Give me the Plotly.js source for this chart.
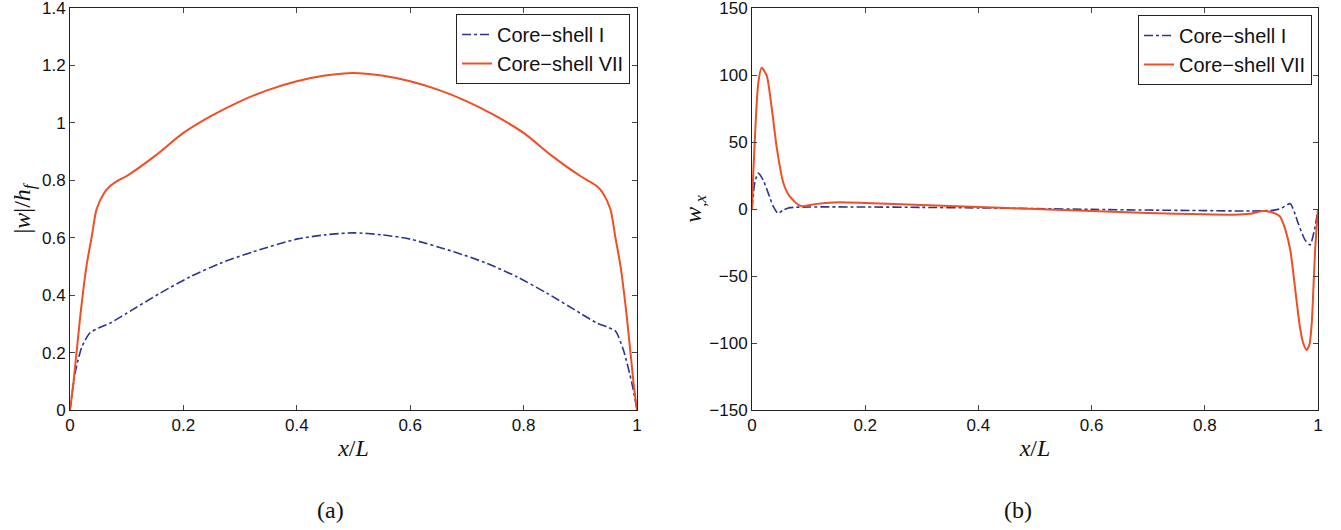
<!DOCTYPE html>
<html><head><meta charset="utf-8">
<script src="https://cdn.plot.ly/plotly-3.0.1.min.js"></script>
<style>body{margin:0;background:#fff}#g{width:1341px;height:530px}</style>
</head><body><div id="g"></div>
<script>
// Panel (a): |w|/h_f
const xA_I = [0,0.009,0.021,0.035,0.05,0.071,0.1,0.159,0.212,0.265,0.323,0.4,0.45,0.5,0.55,0.6,0.677,0.735,0.788,0.841,0.9,0.929,0.95,0.962,0.976,0.991,1];
const yA_I = [0,0.128,0.22,0.268,0.285,0.303,0.337,0.407,0.464,0.511,0.551,0.595,0.61,0.617,0.61,0.595,0.551,0.511,0.464,0.407,0.337,0.303,0.287,0.275,0.209,0.093,0];
const xA_VII = [0,0.006,0.018,0.029,0.038,0.047,0.06,0.071,0.083,0.1,0.15,0.2,0.25,0.3,0.35,0.4,0.45,0.5,0.55,0.6,0.65,0.7,0.75,0.8,0.85,0.9,0.917,0.929,0.94,0.953,0.962,0.971,0.982,0.994,1];
const yA_VII = [0,0.093,0.325,0.5,0.60,0.70,0.755,0.78,0.797,0.815,0.885,0.965,1.025,1.075,1.115,1.145,1.165,1.174,1.165,1.145,1.115,1.075,1.025,0.965,0.885,0.815,0.795,0.78,0.755,0.70,0.60,0.5,0.325,0.093,0];
// Panel (b): w_,x
const xB_I = [0,0.005,0.011,0.02,0.029,0.038,0.046,0.055,0.067,0.1,0.2,0.3,0.4,0.5,0.6,0.7,0.8,0.88,0.92,0.935,0.951,0.958,0.965,0.977,0.986,0.995,1];
const yB_I = [0,20,26.8,21.4,11.5,1.5,-3.3,-0.8,1,1.5,1.5,1.2,0.8,0.3,-0.3,-0.8,-1.2,-1.5,-1,0.5,4,-2,-10.7,-23,-26.8,-13,0];
const xB_VII = [0,0.002,0.007,0.011,0.017,0.026,0.035,0.044,0.055,0.064,0.073,0.082,0.091,0.102,0.13,0.155,0.2,0.3,0.4,0.5,0.6,0.7,0.8,0.85,0.88,0.903,0.915,0.925,0.933,0.942,0.951,0.962,0.968,0.974,0.98,0.985,0.989,0.992,0.995,1];
const yB_VII = [0,24,69,93.8,105.5,99.5,74.9,45,20,11,6.4,3,2,3,4.5,5,4.5,3,1.5,0,-1.5,-3,-4,-4.2,-3.5,-1.5,-2,-3.5,-5.7,-15,-30.6,-68,-88,-100.2,-105.2,-101,-85,-58,-30,0];
const names = ["Core\u2212shell I", "Core\u2212shell VII"];
const xTicks = [0,0.2,0.4,0.6,0.8,1];
const xTickText = ["0","0.2","0.4","0.6","0.8","1"];
const yTicksA = [0,0.2,0.4,0.6,0.8,1,1.2,1.4];
const yTickTextA = ["0","0.2","0.4","0.6","0.8","1","1.2","1.4"];
const yTicksB = [-150,-100,-50,0,50,100,150];
const yTickTextB = ["\u2212150","\u2212100","\u221250","0","50","100","150"];

const BLUE = "#2a3593", ORANGE = "#f04e23";
const traces = [
  {x:xA_I, y:yA_I, name:names[0], xaxis:"x", yaxis:"y", legend:"legend", mode:"lines",
   line:{color:BLUE, width:1.6, dash:"dashdot", shape:"spline", smoothing:0.7}},
  {x:xA_VII, y:yA_VII, name:names[1], xaxis:"x", yaxis:"y", legend:"legend", mode:"lines",
   line:{color:ORANGE, width:2, shape:"spline", smoothing:0.8}},
  {x:xB_I, y:yB_I, name:names[0], xaxis:"x2", yaxis:"y2", legend:"legend2", mode:"lines",
   line:{color:BLUE, width:1.6, dash:"dashdot", shape:"spline", smoothing:0.6}},
  {x:xB_VII, y:yB_VII, name:names[1], xaxis:"x2", yaxis:"y2", legend:"legend2", mode:"lines",
   line:{color:ORANGE, width:2, shape:"spline", smoothing:0.6}}
];
const tickFont = {family:"Liberation Sans, Arial, sans-serif", size:17, color:"#111"};
const titleFont = {family:"Liberation Serif, DejaVu Serif, serif", size:24, color:"#111"};
const axBase = {showline:true, linecolor:"#222", linewidth:1, mirror:"ticks", ticks:"inside",
  ticklen:5, tickcolor:"#444", showgrid:false, zeroline:false, tickfont:tickFont, fixedrange:true,
  ticklabeloverflow:"allow"};
const yDom = [(530-410)/530, (530-8)/530];
const legFont = {family:"Liberation Sans, Arial, sans-serif", size:20, color:"#111"};
const layout = {
  width:1341, height:530, margin:{l:0,r:0,t:0,b:0}, paper_bgcolor:"#fff", plot_bgcolor:"#fff",
  showlegend:true,
  xaxis:Object.assign({}, axBase, {domain:[70/1341, 637/1341], range:[0,1], tickvals:xTicks, ticktext:xTickText, anchor:"y",
     title:{text:"<i>x</i>/<i>L</i>", font:titleFont, standoff:4}}),
  yaxis:Object.assign({}, axBase, {domain:yDom, range:[0,1.4], tickvals:yTicksA, ticktext:yTickTextA, anchor:"x",
     title:{text:"|<i>w</i>|/<i>h<sub>f</sub></i>", font:titleFont, standoff:4}}),
  xaxis2:Object.assign({}, axBase, {domain:[752/1341, 1318/1341], range:[0,1], tickvals:xTicks, ticktext:xTickText, anchor:"y2",
     title:{text:"<i>x</i>/<i>L</i>", font:titleFont, standoff:4}}),
  yaxis2:Object.assign({}, axBase, {domain:yDom, range:[-150,150], tickvals:yTicksB, ticktext:yTickTextB, anchor:"x2",
     title:{text:"<i>w</i><sub>,<i>x</i></sub>", font:titleFont, standoff:0}}),
  legend:{x:630/1341, xanchor:"right", y:(530-14)/530, yanchor:"top", bgcolor:"#fff", bordercolor:"#222", borderwidth:1,
     font:legFont, tracegroupgap:0, itemwidth:30},
  legend2:{x:1312/1341, xanchor:"right", y:(530-15)/530, yanchor:"top", bgcolor:"#fff", bordercolor:"#222", borderwidth:1,
     font:legFont, tracegroupgap:0, itemwidth:30},
  annotations:[
    {text:"(a)", xref:"paper", yref:"paper", x:330/1341, y:(530-510)/530, xanchor:"center", yanchor:"middle", showarrow:false, font:titleFont},
    {text:"(b)", xref:"paper", yref:"paper", x:1018/1341, y:(530-510)/530, xanchor:"center", yanchor:"middle", showarrow:false, font:titleFont}
  ]
};
Plotly.newPlot("g", traces, layout, {displayModeBar:false, staticPlot:true});
</script>
</body></html>
